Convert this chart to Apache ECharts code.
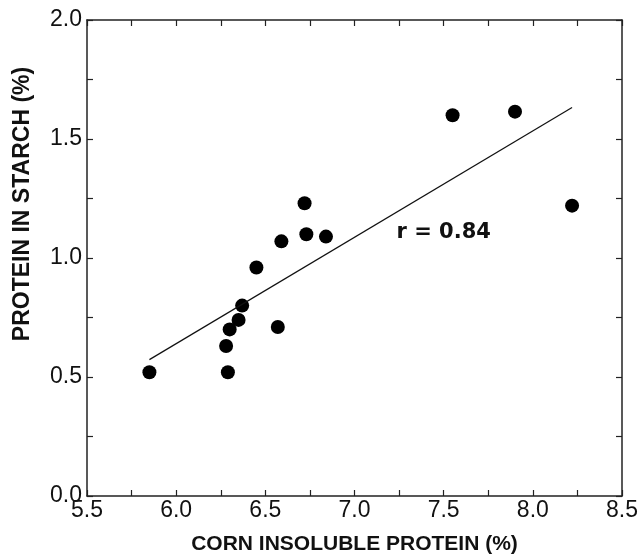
<!DOCTYPE html>
<html>
<head>
<meta charset="utf-8">
<script src="https://cdn.jsdelivr.net/npm/echarts@6/dist/echarts.min.js"></script>
<style>
html, body { margin: 0; padding: 0; background: #fff; }
#main { width: 638px; height: 555px; }
</style>
</head>
<body>
<div id="main"></div>
<script>
// corn insoluble protein (%) vs protein in starch (%)
var cornProtein = [5.85, 6.29, 6.28, 6.30, 6.35, 6.37, 6.45, 6.57, 6.59, 6.72, 6.73, 6.84, 7.55, 7.90, 8.22];
var starchProtein = [0.52, 0.52, 0.63, 0.70, 0.74, 0.80, 0.96, 0.71, 1.07, 1.23, 1.10, 1.09, 1.60, 1.615, 1.22];

// regression line end points
var fitX = [5.85, 8.22];
var fitY = [0.573, 1.632];

var rText = 'r = 0.84';
var rAt = [7.5, 1.105];

var points = cornProtein.map(function (x, i) { return [x, starchProtein[i]]; });
var fitLine = fitX.map(function (x, i) { return [x, fitY[i]]; });

var myChart = echarts.init(document.getElementById('main'));

var lineCol = '#222';
var labelFont = { fontFamily: 'Liberation Sans, Arial, sans-serif', fontSize: 23, color: '#111' };

function axisBase(extra) {
    var a = {
        type: 'value',
        axisLine: { show: true, onZero: false, lineStyle: { color: lineCol, width: 1.5 } },
        axisTick: { show: true, inside: true, length: 6, lineStyle: { color: lineCol, width: 1.2 } },
        minorTick: { show: true, splitNumber: 2, length: 6, lineStyle: { color: lineCol, width: 1.2 } },
        splitLine: { show: false },
        minorSplitLine: { show: false }
    };
    for (var k in extra) a[k] = extra[k];
    return a;
}

var option = {
    backgroundColor: '#fff',
    animation: false,
    grid: {
        left: 87, right: 16, top: 20, bottom: 59,
        containLabel: false,
        outerBoundsMode: 'none'
    },
    xAxis: [
        axisBase({
            position: 'bottom',
            min: 5.5, max: 8.5, interval: 0.5,
            axisLabel: Object.assign({ margin: 3, formatter: function (v) { return v.toFixed(1); } }, labelFont),
            name: 'CORN INSOLUBLE PROTEIN (%)',
            nameLocation: 'middle',
            nameGap: 38,
            nameTextStyle: { fontFamily: 'Liberation Sans, Arial, sans-serif', fontWeight: 'bold', fontSize: 21, color: '#111' }
        }),
        axisBase({
            position: 'top',
            min: 5.5, max: 8.5, interval: 0.5,
            axisLabel: { show: false }
        })
    ],
    yAxis: [
        axisBase({
            position: 'left',
            min: 0, max: 2, interval: 0.5,
            axisLabel: Object.assign({ margin: 5, formatter: function (v) { return v.toFixed(1); } }, labelFont),
            name: 'PROTEIN IN STARCH (%)',
            nameLocation: 'middle',
            nameGap: 53,
            nameTextStyle: {
                fontFamily: 'Liberation Sans, Arial, sans-serif', fontWeight: 'bold', fontSize: 23, color: '#111',
                padding: [0, 0, 0, 108]
            }
        }),
        axisBase({
            position: 'right',
            min: 0, max: 2, interval: 0.5,
            axisLabel: { show: false }
        })
    ],
    series: [
        {
            type: 'line',
            data: fitLine,
            showSymbol: false,
            symbol: 'none',
            lineStyle: { color: '#111', width: 1.2 },
            silent: true,
            markPoint: {
                symbol: 'circle',
                symbolSize: 0,
                data: [{ coord: rAt, value: rText }],
                label: {
                    show: true,
                    position: 'inside',
                    formatter: rText,
                    fontFamily: 'DejaVu Sans, sans-serif',
                    fontWeight: 'bold',
                    fontSize: 21,
                    color: '#111'
                }
            }
        },
        {
            type: 'scatter',
            data: points,
            symbol: 'circle',
            symbolSize: 14,
            itemStyle: { color: '#000', opacity: 1 }
        }
    ]
};

myChart.setOption(option);
</script>
</body>
</html>
